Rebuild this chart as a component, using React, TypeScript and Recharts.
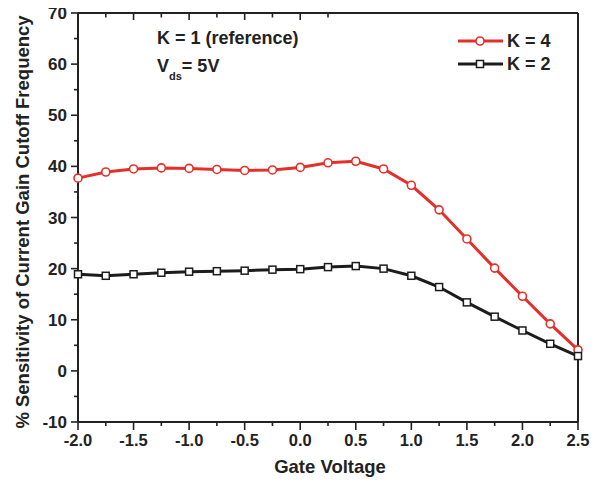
import React from 'react';
import { LineChart, Line, XAxis, YAxis } from 'recharts';

const gateVoltage = [-2, -1.75, -1.5, -1.25, -1, -0.75, -0.5, -0.25, 0, 0.25, 0.5, 0.75, 1, 1.25, 1.5, 1.75, 2, 2.25, 2.5];
const sensitivityK4 = [37.7, 38.9, 39.5, 39.7, 39.6, 39.4, 39.2, 39.3, 39.8, 40.7, 41.0, 39.5, 36.3, 31.5, 25.8, 20.1, 14.6, 9.2, 4.1];
const sensitivityK2 = [18.9, 18.6, 18.9, 19.2, 19.4, 19.5, 19.6, 19.8, 19.9, 20.3, 20.5, 20.0, 18.6, 16.4, 13.4, 10.6, 7.9, 5.3, 2.9];

const xTicks = [-2, -1.75, -1.5, -1.25, -1, -0.75, -0.5, -0.25, 0, 0.25, 0.5, 0.75, 1, 1.25, 1.5, 1.75, 2, 2.25, 2.5];
const yTicks = [-10, -5, 0, 5, 10, 15, 20, 25, 30, 35, 40, 45, 50, 55, 60, 65, 70];
const frameTicks = [1, 2, 3, 4, 5, 6, 7, 8, 9];

const seriesNames = ['K = 4', 'K = 2'];
const annotationLine1 = 'K = 1 (reference)';

const W = 600;
const H = 487;
const PL = 78;
const PR = 578;
const PT = 13;
const PB = 422;

const RED = '#e3302a';
const BLACK = '#1c1c1c';
const AXIS = '#222';
const FONT = '"Liberation Sans", Arial, sans-serif';

const data = gateVoltage.map((v, i) => ({ v, k4: sensitivityK4[i], k2: sensitivityK2[i] }));

const LeftTick = (p: any) => {
  const { y, payload } = p;
  const val = payload.value;
  const major = Math.abs(val % 10) < 1e-9;
  return (
    <g>
      <line x1={PL} x2={PL - (major ? 7 : 4)} y1={y} y2={y} stroke={AXIS} strokeWidth={1.6} />
      {major && (
        <text x={PL - 11} y={y} dy="0.36em" textAnchor="end" fontFamily={FONT} fontWeight="bold" fontSize={17} fill="#222">
          {val}
        </text>
      )}
    </g>
  );
};

const BottomTick = (p: any) => {
  const { x, payload } = p;
  const val = payload.value;
  const major = Math.abs(val * 2 - Math.round(val * 2)) < 1e-9;
  return (
    <g>
      <line x1={x} x2={x} y1={PB} y2={PB + (major ? 8 : 4)} stroke={AXIS} strokeWidth={1.6} />
      {major && (
        <text x={x} y={446} textAnchor="middle" fontFamily={FONT} fontWeight="bold" fontSize={16.5} fill="#222">
          {val.toFixed(1)}
        </text>
      )}
    </g>
  );
};

const TopTick = (p: any) => {
  const { x, payload } = p;
  const major = payload.value % 2 === 0;
  return <line x1={x} x2={x} y1={PT} y2={PT + (major ? 7 : 4.5)} stroke={AXIS} strokeWidth={1.6} />;
};

const RightTick = (p: any) => {
  const { y, payload } = p;
  const major = payload.value % 2 === 0;
  return <line x1={PR} x2={PR - (major ? 8 : 5)} y1={y} y2={y} stroke={AXIS} strokeWidth={1.6} />;
};

const CircleDot = (p: any) => {
  const { cx, cy, index } = p;
  if (cx == null || cy == null) return <g key={`c${index}`} />;
  return <circle key={`c${index}`} cx={cx} cy={cy} r={4} fill="#fff" stroke={RED} strokeWidth={1.6} />;
};

const SquareDot = (p: any) => {
  const { cx, cy, index } = p;
  if (cx == null || cy == null) return <g key={`s${index}`} />;
  return <rect key={`s${index}`} x={cx - 3.5} y={cy - 3.5} width={7} height={7} fill="#fff" stroke={BLACK} strokeWidth={1.5} />;
};

export default function App() {
  return (
    <div style={{ position: 'relative', width: W, height: H, margin: -8, background: '#fff' }}>
      <LineChart width={W} height={H} data={data} margin={{ top: 0, right: 0, bottom: 5, left: 0 }}>
        <XAxis
          dataKey="v"
          type="number"
          domain={[-2, 2.5]}
          ticks={xTicks}
          interval={0}
          axisLine={{ stroke: AXIS, strokeWidth: 2 }}
          tickLine={false}
          tick={BottomTick}
          height={60}
        />
        <XAxis
          xAxisId="top"
          orientation="top"
          type="number"
          domain={[0, 10]}
          ticks={frameTicks}
          interval={0}
          axisLine={{ stroke: AXIS, strokeWidth: 2 }}
          tickLine={false}
          tick={TopTick}
          height={PT}
        />
        <YAxis
          type="number"
          domain={[-10, 70]}
          ticks={yTicks}
          interval={0}
          axisLine={{ stroke: AXIS, strokeWidth: 2 }}
          tickLine={false}
          tick={LeftTick}
          width={PL}
        />
        <YAxis
          yAxisId="right"
          orientation="right"
          type="number"
          domain={[0, 10]}
          ticks={frameTicks}
          interval={0}
          axisLine={{ stroke: AXIS, strokeWidth: 2 }}
          tickLine={false}
          tick={RightTick}
          width={W - PR}
        />
        <Line
          dataKey="k4"
          name={seriesNames[0]}
          stroke={RED}
          strokeWidth={3}
          dot={CircleDot}
          activeDot={false}
          isAnimationActive={false}
        />
        <Line
          dataKey="k2"
          name={seriesNames[1]}
          stroke={BLACK}
          strokeWidth={3}
          dot={SquareDot}
          activeDot={false}
          isAnimationActive={false}
        />
      </LineChart>
      <svg width={W} height={H} style={{ position: 'absolute', left: 0, top: 0, pointerEvents: 'none' }}>
        <g fontFamily={FONT} fontWeight="bold" fill="#222">
          <text x={157} y={44} fontSize={18}>{annotationLine1}</text>
          <text x={157} y={72} fontSize={18}>
            V<tspan dy={8} fontSize={11}>ds</tspan><tspan dy={-8}>= 5V</tspan>
          </text>
          <line x1={458} x2={503} y1={41} y2={41} stroke={RED} strokeWidth={3} />
          <circle cx={480} cy={41} r={4} fill="#fff" stroke={RED} strokeWidth={1.6} />
          <text x={507} y={47} fontSize={18}>{seriesNames[0]}</text>
          <line x1={458} x2={503} y1={64} y2={64} stroke={BLACK} strokeWidth={3} />
          <rect x={476.5} y={60.5} width={7} height={7} fill="#fff" stroke={BLACK} strokeWidth={1.5} />
          <text x={507} y={70} fontSize={18}>{seriesNames[1]}</text>
          <text transform="translate(29,222) rotate(-90)" textAnchor="middle" fontSize={18.5}>
            % Sensitivity of Current Gain Cutoff Frequency
          </text>
          <text x={330} y={473} textAnchor="middle" fontSize={18.5}>Gate Voltage</text>
        </g>
      </svg>
    </div>
  );
}
